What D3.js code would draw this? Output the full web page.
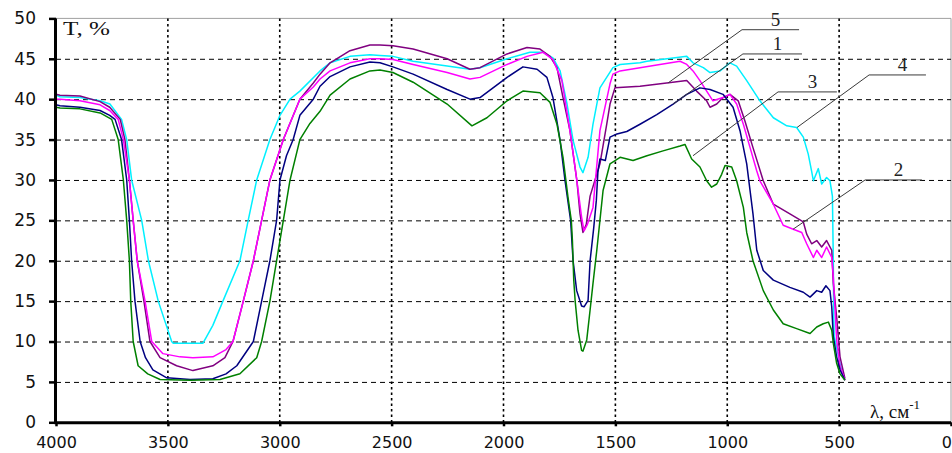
<!DOCTYPE html>
<html>
<head>
<meta charset="utf-8">
<script src="https://cdn.jsdelivr.net/npm/d3@7"></script>
<style>
  html, body { margin: 0; padding: 0; background: #fff; overflow: hidden; }
  svg { display: block; }
</style>
</head>
<body>
<svg id="chart" width="952" height="453"></svg>
<script>
// Axis ticks
const xTicks = [4000, 3500, 3000, 2500, 2000, 1500, 1000, 500, 0];
const yTicks = [0, 5, 10, 15, 20, 25, 30, 35, 40, 45, 50];

// IR transmission spectra: [wavenumber (cm^-1), T (%)]
const curve1 = [[4000,39.3],[3982,39.2],[3893,39.0],[3803,38.6],[3760,38.0],[3736,37.5],[3707,35],[3684,30],[3672,25],[3662,20],[3647,15],[3624,10],[3600,8],[3567,6.5],[3505,5.5],[3400,5.3],[3299,5.4],[3240,6],[3192,7],[3118,10],[3081,15],[3044,20],[3014,25],[2999,30],[2970,33],[2940,35],[2910,38],[2850,40],[2820,41.6],[2775,42.8],[2686,44.0],[2597,44.6],[2552,44.5],[2494,44.0],[2404,43.1],[2252,41.2],[2150,40.0],[2105,40.2],[1984,42.7],[1913,44.0],[1850,43.7],[1806,42.7],[1779,40.2],[1747,34.9],[1725,29.9],[1700,25],[1689,20],[1673,16.3],[1651,14.4],[1640,14.3],[1622,15.1],[1613,20],[1597,24],[1585,27.5],[1578,31],[1569,32.6],[1545,32.4],[1524,35.3],[1493,35.7],[1449,36.0],[1390,36.9],[1315,38.1],[1242,39.4],[1181,40.6],[1122,41.4],[1077,41.2],[1019,40.6],[974,39],[943,36.1],[913,32],[885,25.8],[868,21.3],[839,18.8],[794,17.6],[720,16.7],[660,16.1],[630,15.5],[600,16.3],[578,16.1],[559,16.9],[541,16.3],[533,14.3],[526,10.6],[511,8.1],[496,6.5],[474,5.2]];

const curve2 = [[4000,40.0],[3982,40.0],[3893,39.8],[3803,39.3],[3760,38.6],[3722,37.5],[3699,35],[3672,30],[3655,25],[3637,20],[3602,15],[3572,10],[3522,8.5],[3446,8.1],[3388,8.0],[3299,8.1],[3240,9],[3209,10],[3163,15],[3118,20],[3081,25],[3044,30],[2984,35],[2910,40],[2850,41.5],[2820,42.5],[2775,43.5],[2686,44.5],[2597,45.0],[2552,45.0],[2494,44.9],[2404,44.3],[2252,43.3],[2150,42.5],[2105,42.7],[1984,44.3],[1895,45.3],[1823,45.8],[1779,44.9],[1739,42.3],[1703,36.1],[1672,29.9],[1651,25.4],[1640,23.7],[1625,24.5],[1600,26.6],[1569,36.1],[1524,41.9],[1511,43.1],[1479,43.5],[1390,43.9],[1301,44.3],[1211,44.7],[1181,44.3],[1153,43.5],[1122,42.3],[1092,41],[1064,39.8],[1019,40.2],[988,40.6],[958,39.4],[928,36.9],[898,34],[868,31.1],[854,29.9],[794,27],[750,24.4],[705,23.9],[667,23.5],[645,22.1],[615,20.4],[600,21.3],[578,20.4],[556,21.7],[533,20.4],[526,18],[518,13.9],[511,10.2],[496,6.9],[474,5.2]];

const curve3 = [[4000,39.0],[3982,38.9],[3893,38.8],[3803,38.3],[3751,37.5],[3722,35],[3699,30],[3684,25],[3672,20],[3666,15],[3655,10],[3633,7],[3590,6],[3535,5.3],[3400,5.2],[3267,5.3],[3178,6],[3103,8],[3081,10],[3044,15],[3014,20],[2984,25],[2954,30],[2910,35],[2865,37],[2820,38.5],[2775,40.5],[2686,42.5],[2597,43.5],[2552,43.6],[2494,43.3],[2404,42.1],[2252,39.4],[2141,36.7],[2074,37.7],[1984,39.8],[1913,41.0],[1837,40.8],[1792,39.6],[1761,36.9],[1734,32.8],[1712,27.9],[1697,25],[1692,22.5],[1686,17.6],[1680,15.1],[1667,11.4],[1651,8.9],[1645,8.8],[1628,10.2],[1613,13.9],[1600,17.2],[1583,21.3],[1569,25],[1555,28.7],[1524,32],[1479,32.8],[1421,32.4],[1359,33],[1287,33.6],[1211,34.2],[1189,34.4],[1159,32.6],[1122,31.6],[1092,29.9],[1070,29.1],[1047,29.5],[1025,30.7],[1010,31.8],[980,31.6],[958,29.9],[928,26.6],[913,23.5],[885,20],[839,16.3],[794,13.9],[750,12.2],[690,11.6],[630,11],[600,11.8],[571,12.2],[548,12.4],[533,11.4],[526,9.8],[511,7.3],[496,6],[474,5.2]];

const curve4 = [[4000,40.5],[3982,40.3],[3893,40.2],[3803,39.8],[3759,39.4],[3707,37.5],[3684,35],[3662,30],[3617,25],[3587,20],[3543,15],[3483,10],[3477,9.8],[3343,9.8],[3299,12],[3254,15],[3178,20],[3141,25],[3103,30],[3044,35],[2999,38],[2954,40],[2910,41],[2820,43.5],[2775,44.5],[2686,45.3],[2597,45.5],[2552,45.4],[2494,45.3],[2404,44.7],[2252,44.1],[2150,43.7],[2105,43.9],[1984,45.0],[1882,45.8],[1823,45.8],[1779,45.1],[1747,43.5],[1716,39.4],[1689,34.9],[1658,31.6],[1645,30.9],[1622,32.8],[1600,36.9],[1569,41.4],[1511,43.9],[1479,44.3],[1390,44.5],[1359,44.7],[1242,45.1],[1181,45.3],[1153,44.5],[1107,43.9],[1077,43.3],[1032,43.5],[988,44.5],[958,44.1],[913,42.3],[854,39.8],[794,37.7],[734,36.7],[690,36.5],[660,35.3],[638,33.2],[623,31.1],[615,29.9],[593,31.4],[578,29.5],[556,30.3],[541,29.9],[530,28],[526,20],[524,13],[522,10.6],[496,7.3],[481,5.6]];

const curve5 = [[4000,40.6],[3982,40.5],[3893,40.4],[3803,39.7],[3760,39],[3713,37.5],[3692,35],[3672,30],[3655,25],[3637,20],[3607,15],[3580,10],[3535,8],[3461,7],[3388,6.4],[3299,7],[3245,8],[3209,10],[3163,15],[3118,20],[3081,25],[3044,30],[2984,35],[2910,40],[2850,42],[2820,43.1],[2775,44.5],[2686,46.0],[2597,46.7],[2552,46.7],[2494,46.6],[2404,46.2],[2252,45.0],[2150,43.7],[2105,43.9],[1984,45.6],[1895,46.4],[1837,46.2],[1792,45.3],[1761,43.9],[1734,40.2],[1703,36.1],[1672,29.9],[1658,25.8],[1645,23.5],[1630,24.5],[1613,28],[1569,32],[1538,37],[1524,39.4],[1502,41.4],[1390,41.6],[1271,42],[1181,42.3],[1137,41],[1092,39.8],[1077,39],[1047,39.4],[1019,40.2],[988,40.6],[951,39.8],[921,37.3],[885,34],[839,29.9],[794,27],[720,25.8],[660,24.8],[645,23.3],[623,22.1],[600,22.5],[578,21.7],[556,22.5],[533,21.3],[526,17.2],[511,13],[496,8.1],[474,5.4]];

// Curve numbers with their leader lines (data units)
const labelText     = ["5", "1", "3", "4", "2"];
const anchorWn      = [1265, 1242, 1153, 688, 706];
const anchorT       = [42.0, 39.4, 33.0, 36.5, 23.9];
const shelfStartWn  = [934, 930, 773, 366, 384];
const shelfEndWn    = [679, 666, 510, 112, 130];
const shelfT        = [48.6, 45.6, 40.9, 43.0, 30.0];

const series = [
  { id: "4", data: curve4, color: "#00f0ff" },
  { id: "5", data: curve5, color: "#800080" },
  { id: "2", data: curve2, color: "#ff00ff" },
  { id: "1", data: curve1, color: "#000080" },
  { id: "3", data: curve3, color: "#008000" }
];

const svg = d3.select("#chart");
const plotLeft = 56, plotRight = 951, plotTop = 18.4, plotBottom = 422.3;

const x = d3.scaleLinear().domain([4000, 0]).range([plotLeft, plotRight]);
const y = d3.scaleLinear().domain([0, 50]).range([plotBottom, plotTop]);

// frame (top and right)
svg.append("line").attr("x1", plotLeft).attr("x2", plotRight).attr("y1", plotTop).attr("y2", plotTop)
  .attr("stroke", "#a0a0a0").attr("stroke-width", 1);
svg.append("line").attr("x1", plotRight).attr("x2", plotRight).attr("y1", plotTop).attr("y2", plotBottom)
  .attr("stroke", "#a0a0a0").attr("stroke-width", 1);

// horizontal dashed grid
svg.append("g").selectAll("line")
  .data(yTicks.filter(d => d > 0 && d < 50))
  .join("line")
  .attr("x1", plotLeft).attr("x2", plotRight)
  .attr("y1", d => y(d) + 0.5).attr("y2", d => y(d) + 0.5)
  .attr("stroke", "#000").attr("stroke-width", 1)
  .attr("stroke-dasharray", "5,4");

// vertical dotted grid
svg.append("g").selectAll("line")
  .data(xTicks.filter(d => d > 0 && d < 4000))
  .join("line")
  .attr("x1", d => x(d)).attr("x2", d => x(d))
  .attr("y1", plotTop).attr("y2", plotBottom)
  .attr("stroke", "#000").attr("stroke-width", 1.6)
  .attr("stroke-dasharray", "2.5,3");

// spectra
const line = d3.line().x(d => x(d[0])).y(d => y(d[1]));
svg.append("g").selectAll("path")
  .data(series)
  .join("path")
  .attr("d", d => line(d.data))
  .attr("fill", "none")
  .attr("stroke", d => d.color)
  .attr("stroke-width", 1.5)
  .attr("stroke-linejoin", "round");

// axes
const fmt = d3.format("d");
const yAxis = d3.axisLeft(y).tickValues(yTicks).tickFormat(fmt).tickSize(7).tickPadding(13);
const gy = svg.append("g").attr("transform", `translate(${plotLeft},0)`).call(yAxis);
const xAxis = d3.axisBottom(x).tickValues(xTicks).tickFormat(fmt).tickSize(4).tickPadding(14);
const gx = svg.append("g").attr("transform", `translate(0,${plotBottom})`).call(xAxis);

[gx, gy].forEach(g => {
  g.select(".domain").attr("stroke", "#000").attr("stroke-width", 3);
  g.selectAll(".tick line").attr("stroke", "#000").attr("stroke-width", 2.5);
  g.selectAll(".tick text")
    .attr("fill", "#111")
    .style("font-family", "'DejaVu Sans', Verdana, sans-serif")
    .style("font-size", "17px");
});
gy.select(".domain").attr("d", `M-0.5,${plotBottom}V${plotTop}`);
gx.select(".domain").attr("d", `M${plotLeft - 1.5},0.5H${plotRight}`);
// bottom labels sit on a baseline just inside the lower edge
gx.selectAll(".tick text")
  .style("font-size", "16px")
  .attr("y", 448 - plotBottom).attr("dy", 0);
// the last label is kept inside the right edge
gx.selectAll(".tick text").filter(d => d === 0)
  .attr("text-anchor", "end").attr("x", 951.5 - plotRight);

// axis titles
svg.append("text")
  .attr("x", 63).attr("y", 35)
  .attr("textLength", 47).attr("lengthAdjust", "spacingAndGlyphs")
  .style("font-family", "'Liberation Serif', 'Times New Roman', serif")
  .style("font-size", "19px").attr("fill", "#111")
  .text("T, %");

const xt = svg.append("text")
  .attr("x", 870).attr("y", 418)
  .style("font-family", "'Liberation Serif', 'Times New Roman', serif")
  .style("font-size", "19px").attr("fill", "#111");
xt.append("tspan").text("λ, см");
xt.append("tspan").attr("dy", -9).style("font-size", "13px").text("-1");

// curve labels with leader lines
const ann = svg.append("g");
labelText.forEach((t, i) => {
  const sx = x(shelfStartWn[i]), ex = x(shelfEndWn[i]), sy = y(shelfT[i]);
  ann.append("polyline")
    .attr("points", `${x(anchorWn[i])},${y(anchorT[i])} ${sx},${sy} ${ex},${sy}`)
    .attr("fill", "none").attr("stroke", "#3a3a3a").attr("stroke-width", 1);
  ann.append("text")
    .attr("x", (sx + ex) / 2 + 5).attr("y", sy - 4)
    .attr("text-anchor", "middle")
    .style("font-family", "'Liberation Serif', 'Times New Roman', serif")
    .style("font-size", "19px").attr("fill", "#222")
    .text(t);
});
</script>
</body>
</html>
